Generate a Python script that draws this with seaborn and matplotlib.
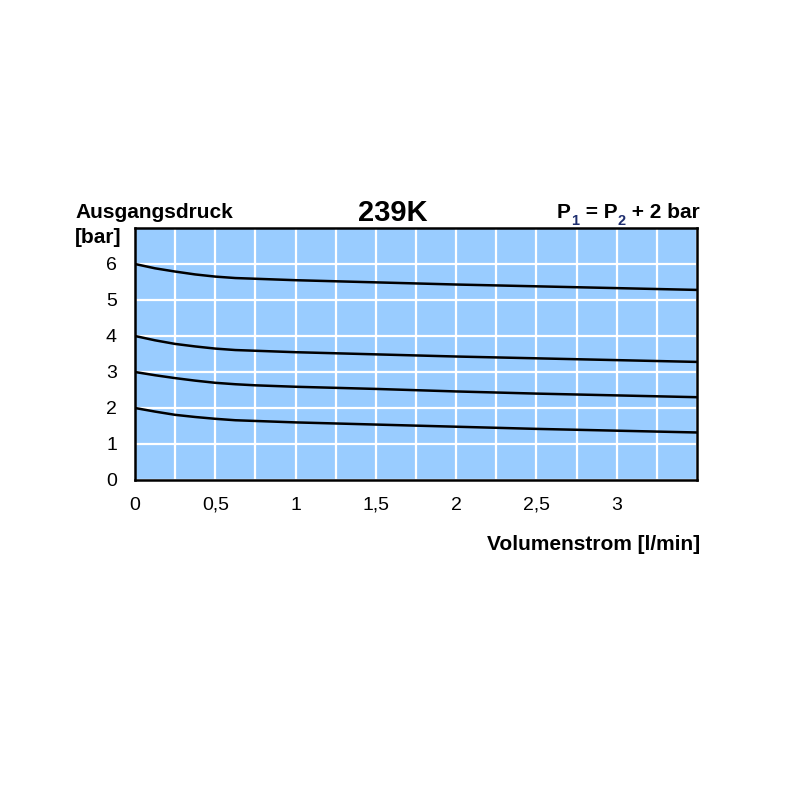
import numpy as np
import pandas as pd
import seaborn as sns
import matplotlib.pyplot as plt
from matplotlib.ticker import MultipleLocator

# flow [l/min] and outlet pressure [bar]
flow = [0, 0.125, 0.25, 0.375, 0.5, 0.625, 0.75, 1.0, 1.5, 2.0, 2.5, 3.0, 3.5]
p_6 = [6.00, 5.88, 5.79, 5.71, 5.65, 5.61, 5.59, 5.55, 5.49, 5.43, 5.38, 5.33, 5.28]
p_4 = [4.00, 3.88, 3.78, 3.71, 3.65, 3.61, 3.59, 3.55, 3.49, 3.43, 3.38, 3.33, 3.28]
p_3 = [3.00, 2.91, 2.83, 2.76, 2.70, 2.66, 2.63, 2.59, 2.53, 2.46, 2.40, 2.35, 2.30]
p_2 = [2.00, 1.90, 1.81, 1.75, 1.70, 1.66, 1.64, 1.60, 1.54, 1.48, 1.42, 1.37, 1.32]

x_ticks = [0, 0.5, 1, 1.5, 2, 2.5, 3]
x_labels = ["0", "0,5", "1", "1,5", "2", "2,5", "3"]
y_ticks = [0, 1, 2, 3, 4, 5, 6]
y_labels = ["0", "1", "2", "3", "4", "5", "6"]

df = pd.concat([
    pd.DataFrame({"flow": flow, "p": vals, "curve": name})
    for name, vals in [("6", p_6), ("4", p_4), ("3", p_3), ("2", p_2)]
])

sns.set_style("white")
plt.rcParams['font.family'] = ['Liberation Sans', 'DejaVu Sans']
plt.rcParams['text.color'] = 'black'
plt.rcParams['xtick.color'] = 'black'
plt.rcParams['ytick.color'] = 'black'

fig = plt.figure(figsize=(8, 8), dpi=100)
ax = fig.add_axes([0.16875, 0.4, 0.7025, 0.315])
ax.set_facecolor("#99CCFF")

sns.lineplot(data=df, x="flow", y="p", units="curve", estimator=None,
             color="black", linewidth=1.8, ax=ax, legend=False)

ax.set_xlim(0, 3.5)
ax.set_ylim(0, 7)
ax.set_xticks(x_ticks)
ax.set_xticklabels(x_labels, va="baseline")
ax.set_yticks(y_ticks)
ax.set_yticklabels(y_labels)
ax.xaxis.set_minor_locator(MultipleLocator(0.25))
ax.tick_params(axis="both", which="both", length=0, labelsize=14)
ax.tick_params(axis="x", pad=21.5)
ax.tick_params(axis="y", pad=13)
ax.set_axisbelow(True)
ax.grid(True, which="both", color="white", linewidth=1.6)
for s in ax.spines.values():
    s.set_color("black")
    s.set_linewidth(1.8)
ax.set_xlabel("")
ax.set_ylabel("")

# header texts
fig.text(75 / 800, 1 - 218 / 800, "Ausgangsdruck", fontsize=15, fontweight="bold",
         ha="left", va="baseline")
fig.text(75 / 800, 1 - 243 / 800, "[bar]", fontsize=15, fontweight="bold",
         ha="left", va="baseline")
fig.text(393 / 800, 1 - 221 / 800, "239K", fontsize=21, fontweight="bold",
         ha="center", va="baseline")
fig.text(700 / 800, 1 - 550 / 800, "Volumenstrom [l/min]", fontsize=15,
         fontweight="bold", ha="right", va="baseline")

# P1 = P2 + 2 bar, with navy subscripts
navy = "#1F2F6F"
t = fig.text(557 / 800, 1 - 218 / 800, "P", fontsize=15, fontweight="bold",
             ha="left", va="baseline")
parts = [("1", 10.5, navy, -4), (" = P", 15, "black", 4), ("2", 10.5, navy, -4),
         (" + 2 bar", 15, "black", 4)]
for txt, size, col, dy in parts:
    t = ax.annotate(txt, xy=(1, 0), xycoords=t, xytext=(0.3, dy),
                    textcoords="offset points", fontsize=size, fontweight="bold",
                    color=col, ha="left", va="bottom", annotation_clip=False)

fig.savefig("out.png", dpi=100)
